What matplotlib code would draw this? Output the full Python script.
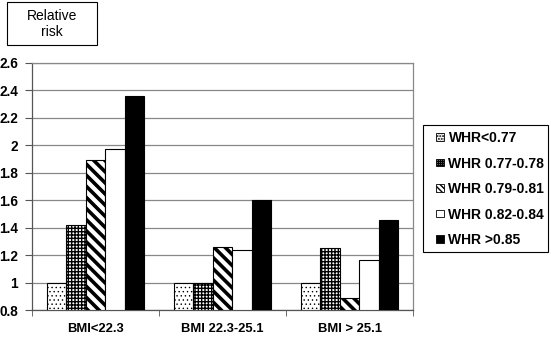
import matplotlib
matplotlib.use("Agg")
import matplotlib.pyplot as plt
from matplotlib.patches import Rectangle
import numpy as np

plt.rcParams['font.family'] = ['Liberation Sans', 'DejaVu Sans']

categories = ["BMI<22.3", "BMI 22.3-25.1", "BMI > 25.1"]
series_names = ["WHR<0.77", "WHR 0.77-0.78", "WHR 0.79-0.81", "WHR 0.82-0.84", "WHR >0.85"]
values = [
    [1.00, 1.00, 1.00],   # WHR<0.77
    [1.42, 1.00, 1.25],   # WHR 0.77-0.78
    [1.89, 1.26, 0.89],   # WHR 0.79-0.81
    [1.97, 1.24, 1.165],  # WHR 0.82-0.84
    [2.36, 1.60, 1.455],  # WHR >0.85
]
yticks = [0.8, 1, 1.2, 1.4, 1.6, 1.8, 2, 2.2, 2.4, 2.6]
ytick_labels = ["0.8", "1", "1.2", "1.4", "1.6", "1.8", "2", "2.2", "2.4", "2.6"]

styles = [
    dict(facecolor="white", hatch="....", hlw=0.5),
    dict(facecolor="white", hatch="+++++", hlw=1.0),
    dict(facecolor="white", hatch="\\\\\\", hlw=2.6),
    dict(facecolor="white", hatch=None, hlw=1.0),
    dict(facecolor="black", hatch=None, hlw=1.0),
]
legend_hatches = ["......", "++++++++", "\\\\\\\\\\\\", None, None]

W, H = 551, 337
fig = plt.figure(figsize=(W / 100, H / 100), dpi=100)
ax = fig.add_axes([32 / W, 1 - 310 / H, (413 - 32) / W, (310 - 63) / H])

n = len(series_names)
bw = 0.154
x = np.arange(len(categories))
base = 0.8
handles = []
for i, (name, vals, st) in enumerate(zip(series_names, values, styles)):
    with plt.rc_context({'hatch.linewidth': st['hlw'], 'hatch.color': 'black'}):
        h = np.array(vals) - base
        ax.bar(x + (i - (n - 1) / 2) * bw, h, bw, bottom=base,
               facecolor=st['facecolor'], edgecolor="black", linewidth=0.8,
               hatch=st['hatch'], label=name, zorder=3)
        handles.append(Rectangle((0, 0), 1, 1, facecolor=st['facecolor'], edgecolor="black",
                                 linewidth=0.6, hatch=legend_hatches[i]))

ax.set_xlim(-0.5, len(categories) - 0.5)
ax.set_ylim(0.8, 2.6)
ax.set_yticks(yticks)
ax.set_yticklabels(ytick_labels, fontsize=9.8, fontweight="bold")
ax.yaxis.grid(True, color="#888888", linewidth=0.9, zorder=0)
ax.set_axisbelow(True)
ax.set_xticks(x)
ax.set_xticklabels(categories, fontsize=9.4, fontweight="bold")
ax.tick_params(axis="x", length=0, pad=9)
ax.set_xticks(np.arange(len(categories) + 1) - 0.5, minor=True)
ax.tick_params(axis="x", which="minor", length=4, direction="out", color="#555555")
ax.tick_params(axis="y", length=5, direction="out", color="#555555", pad=5)
for side in ["top", "right"]:
    ax.spines[side].set_color("#888888")
    ax.spines[side].set_linewidth(0.9)
for side in ["left", "bottom"]:
    ax.spines[side].set_color("#555555")
    ax.spines[side].set_linewidth(0.9)

leg = fig.legend(handles=handles, labels=series_names, loc="upper left",
                 bbox_to_anchor=(436 / W, 1 - 131 / H),
                 prop={'weight': 'bold', 'size': 10},
                 frameon=False,
                 handlelength=0.6, handleheight=0.45, handletextpad=0.3,
                 labelspacing=0.83, borderpad=0, borderaxespad=0)
fig.patches.append(Rectangle((423 / W, 1 - 252 / H), (548 - 423) / W, (252 - 125) / H,
                             transform=fig.transFigure, facecolor="none",
                             edgecolor="black", linewidth=0.8))

fig.text(52 / W, 1 - 24 / H, "Relative\nrisk", ha="center", va="center", fontsize=10,
         linespacing=1.2)
fig.patches.append(Rectangle((7 / W, 1 - 45 / H), 90 / W, 43 / H, transform=fig.transFigure,
                             facecolor="none", edgecolor="black", linewidth=0.8))

fig.savefig("out.png", dpi=100)
